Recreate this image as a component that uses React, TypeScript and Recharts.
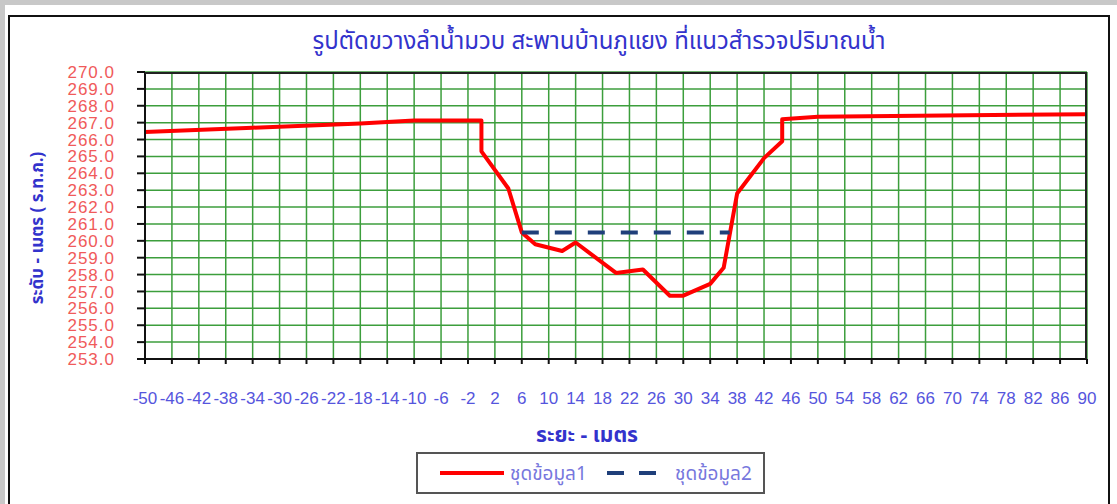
import { LineChart, Line, XAxis, YAxis, CartesianGrid } from 'recharts';

const xTicks = [-50, -46, -42, -38, -34, -30, -26, -22, -18, -14, -10, -6, -2, 2, 6, 10, 14, 18, 22, 26, 30, 34, 38, 42, 46, 50, 54, 58, 62, 66, 70, 74, 78, 82, 86, 90];
const yTicks = [253, 254, 255, 256, 257, 258, 259, 260, 261, 262, 263, 264, 265, 266, 267, 268, 269, 270];

// ชุดข้อมูล1 : ท้องน้ำ (ระยะ, ระดับ)
const bedDist = [-50, -34, -18, -10, 0, 0, 4, 6, 8, 12, 14, 20, 24, 28, 30, 34, 36, 38, 42, 44.7, 44.7, 50, 90];
const bedLevel = [266.45, 266.7, 266.95, 267.13, 267.13, 265.3, 263.1, 260.5, 259.8, 259.4, 259.9, 258.1, 258.3, 256.75, 256.75, 257.45, 258.4, 262.8, 264.9, 265.9, 267.2, 267.35, 267.5];

// ชุดข้อมูล2 : ระดับน้ำ
const waterDist = [6, 36.9];
const waterLevel = [260.5, 260.5];

const bed = bedDist.map((x, i) => ({ x, y: bedLevel[i] }));
const water = waterDist.map((x, i) => ({ x, y: waterLevel[i] }));

const TH = 'Tahoma, "Noto Sans Thai", "DejaVu Sans", sans-serif';
const NUM = '"Liberation Sans", Arial, sans-serif';
const BLUE = '#3333cc';

export default function App() {
    return (
        <div style={{ position: 'absolute', left: 0, top: 0, width: 1117, height: 504, overflow: 'hidden', background: '#fff', fontFamily: TH }}>
            <div style={{ position: 'absolute', left: 0, top: 0, width: 1117, height: 5, background: '#c8c8c8' }} />
            <div style={{ position: 'absolute', left: 0, top: 0, width: 5, height: 504, background: '#c8c8c8' }} />
            <div style={{ position: 'absolute', left: 8, top: 15, width: 1098, height: 520, border: '2px solid #111' }} />

            <div style={{ position: 'absolute', left: 599, top: 24, transform: 'translateX(-50%)', whiteSpace: 'nowrap', color: BLUE, fontSize: 24 }}>
                รูปตัดขวางลำน้ำมวบ สะพานบ้านภูแยง ที่แนวสำรวจปริมาณน้ำ
            </div>

            <div style={{ position: 'absolute', left: 0, top: 0 }}>
                <LineChart width={1117} height={504} data={bed} margin={{ top: 72, right: 30, bottom: 85, left: 45 }}>
                    <CartesianGrid stroke="#3c9e3c" strokeWidth={1.5} />
                    <XAxis dataKey="x" type="number" domain={[-50, 90]} ticks={xTicks} interval={0} height={60}
                        axisLine={{ stroke: '#111', strokeWidth: 2 }} tickLine={{ stroke: '#111', strokeWidth: 2 }} tickSize={5} tickMargin={28}
                        tick={{ fill: '#5555dd', fontSize: 17, fontFamily: NUM }} />
                    <YAxis type="number" domain={[253, 270]} ticks={yTicks} interval={0} width={100}
                        tickFormatter={(v: number) => v.toFixed(1)}
                        axisLine={{ stroke: '#111', strokeWidth: 2 }} tickLine={{ stroke: '#111', strokeWidth: 2 }} tickSize={8} tickMargin={22}
                        tick={{ fill: '#f05a5a', fontSize: 17, letterSpacing: 1, fontFamily: NUM }} />
                    <Line data={bed} dataKey="y" type="linear" stroke="#ff0000" strokeWidth={4} dot={false} strokeLinejoin="round" isAnimationActive={false} />
                    <Line data={water} dataKey="y" type="linear" stroke="#1f3f7a" strokeWidth={4} strokeDasharray="17 16" dot={false} isAnimationActive={false} />
                </LineChart>
            </div>

            <div style={{ position: 'absolute', left: 145, top: 72, width: 940, height: 285, borderTop: '2px solid #222', borderRight: '2px solid #222', pointerEvents: 'none' }} />

            <div style={{ position: 'absolute', left: 38, top: 228, transform: 'translate(-50%, -50%) rotate(-90deg)', whiteSpace: 'nowrap', color: BLUE, fontSize: 17, fontWeight: 'bold' }}>
                ระดับ - เมตร ( ร.ท.ก.)
            </div>
            <div style={{ position: 'absolute', left: 587, top: 435, transform: 'translate(-50%, -50%)', whiteSpace: 'nowrap', color: BLUE, fontSize: 21, fontWeight: 'bold' }}>
                ระยะ - เมตร
            </div>

            <div style={{ position: 'absolute', left: 416, top: 452, width: 345, height: 38, border: '2px solid #555', background: '#fff' }}>
                <svg width={345} height={38} style={{ position: 'absolute', left: 0, top: 0 }}>
                    <line x1={22} y1={19} x2={86} y2={19} stroke="#ff0000" strokeWidth={4} />
                    <line x1={189} y1={19} x2={239} y2={19} stroke="#1f3f7a" strokeWidth={4} strokeDasharray="17 15" />
                </svg>
                <span style={{ position: 'absolute', left: 92, top: 6, fontSize: 19, color: '#7777dd', whiteSpace: 'nowrap' }}>ชุดข้อมูล1</span>
                <span style={{ position: 'absolute', left: 257, top: 6, fontSize: 19, color: '#7777dd', whiteSpace: 'nowrap' }}>ชุดข้อมูล2</span>
            </div>
        </div>
    );
}
